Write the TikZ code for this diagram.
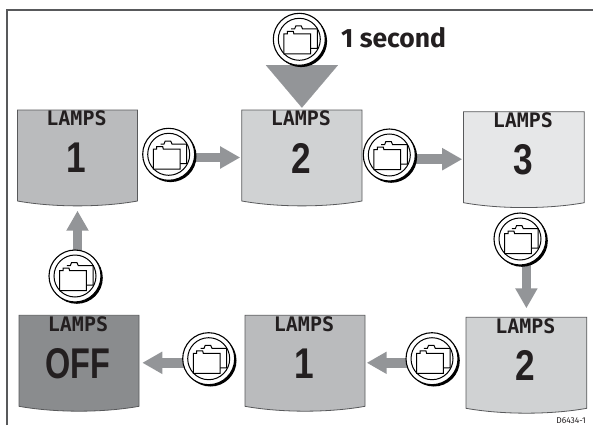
\documentclass[tikz,border=0pt]{standalone}
\usepackage{fontspec}
\usetikzlibrary{arrows.meta,backgrounds}
\newfontfamily\lcdfont{DejaVu Sans Mono}
\newfontfamily\digitfont{Liberation Sans}
\newfontfamily\labelfont{Fira Sans}
\definecolor{inkc}{HTML}{231F20}
\definecolor{framec}{HTML}{58595B}
\definecolor{arrowc}{HTML}{939598}
\definecolor{shadea}{HTML}{E6E7E8}
\definecolor{shadeb}{HTML}{D0D2D3}
\definecolor{shadec}{HTML}{BABBBD}
\definecolor{shaded}{HTML}{8A8C8E}
\tikzset{
  x=1pt,y=-1pt,
  screenbox/.style={minimum width=120pt,minimum height=95pt,inner sep=0pt,outer sep=0pt},
  screentitle/.style={inkc,inner sep=0pt,font=\lcdfont\bfseries\fontsize{20}{20}\selectfont},
  screenvalue/.style={inkc,inner sep=0pt,font=\digitfont\bfseries\fontsize{43}{43}\selectfont},
  keybutton/.style={circle,draw=black,line width=1.1pt,fill=white,minimum size=52pt,inner sep=0pt,outer sep=0pt},
  flowarrow/.style={arrowc,line width=9.5pt,-{Triangle[length=20pt,width=21pt]}},
  bigarrow/.style={arrowc,line width=0.1pt,-{Triangle[length=42.5pt,width=72pt]}},
}
\newcommand{\lampscreen}[6]{%
  % name, left, top, width, fill, value
  \begin{scope}[shift={(#2,#3)}]
    \draw[draw=framec,line width=0.8pt,fill=#5] (0,0) -- (#4,0) -- (#4,91)
      .. controls ({#4*0.7},97.5) and ({#4*0.3},97.5) .. (0,91) -- cycle;
    \node[screenbox] (#1) at ({#4/2},47.5) {};
    \node[screentitle] (#1t) at ({#4/2-1},8.5) {LAMPS};
    \node[screenvalue] (#1v) at ({#4/2-1},48) {\scalebox{0.82}[1]{#6}};
  \end{scope}}
\newcommand{\keybutton}[3]{%
  \fill[black] ({#2+1.8},{#3+1.8}) circle[radius=26];
  \node[keybutton] (#1) at (#2,#3) {};
  \begin{scope}[shift={(#2,#3)},line width=1pt,line join=miter]
    \draw (0,0) circle[radius=21];
    \draw (-8.2,-10.3) -- (-4.7,-10.3) -- (-3.5,-13.3) -- (2,-13.3) -- (3.3,-10.3) -- (18,-10.3) -- (18,9.2) -- (11.3,9.2);
    \draw[fill=white] (-15.4,-5.3) -- (-12,-5.3) -- (-12,-7.8) -- (-6,-7.8) -- (-5.4,-5.3) -- (11.3,-5.3) -- (11.3,14.7) -- (-15.4,14.7) -- cycle;
  \end{scope}}
\begin{document}
\begin{tikzpicture}
\useasboundingbox (0,0) rectangle (593,425);
\coordinate (frameA) at (7,425);
\coordinate (frameB) at (7,10);
\coordinate (frameC) at (593,10);
\draw[framec,line width=1.3pt] (frameA) -- (frameB) -- (frameC);

\lampscreen{sa}{17.5}{110}{120}{shadec}{1}
\lampscreen{sb}{241.8}{110}{120.2}{shadeb}{2}
\lampscreen{sc}{463.5}{111.7}{120.8}{shadea}{3}
\lampscreen{sd}{466}{317.3}{120.8}{shadeb}{2}
\lampscreen{se}{245}{315.3}{120}{shadec}{1}
\lampscreen{sf}{19}{315.3}{120}{shaded}{\scalebox{0.92}[1]{OFF}}

\keybutton{bt}{299.3}{39.3}
\keybutton{ba}{168.7}{154.3}
\keybutton{bb}{389.3}{155}
\keybutton{bc}{520}{239}
\keybutton{bd}{432}{358.7}
\keybutton{be}{208.7}{358.7}
\keybutton{bf}{75}{276}

\begin{scope}[on background layer]
  \draw[bigarrow,shorten >=2.3pt] (bt.south -| sb.north) -- (sb.north);
  \draw[flowarrow,shorten >=1.7pt] (ba |- sb.west) -- (sb.west);
  \draw[flowarrow,shorten >=1.7pt] (bb |- sc.west) -- (sc.west);
  \draw[flowarrow,shorten >=9pt] (bc -| sd.north) -- (sd.north);
  \draw[flowarrow,shorten >=1.7pt] (bd |- se.east) -- (se.east);
  \draw[flowarrow,shorten >=3.3pt] (be |- sf.east) -- (sf.east);
  \draw[flowarrow,shorten >=5.7pt] (bf -| sa.south) -- (sa.south);
\end{scope}

\node[inkc,anchor=west,inner sep=0pt,font=\labelfont\bfseries\fontsize{26.5}{26.5}\selectfont] (seclabel) at (341,38) {1 second};
\node[inkc,anchor=east,inner sep=0pt,font=\labelfont\fontsize{8.5}{8.5}\selectfont] (reflabel) at (586,421) {D6434-1};
\end{tikzpicture}
\end{document}
